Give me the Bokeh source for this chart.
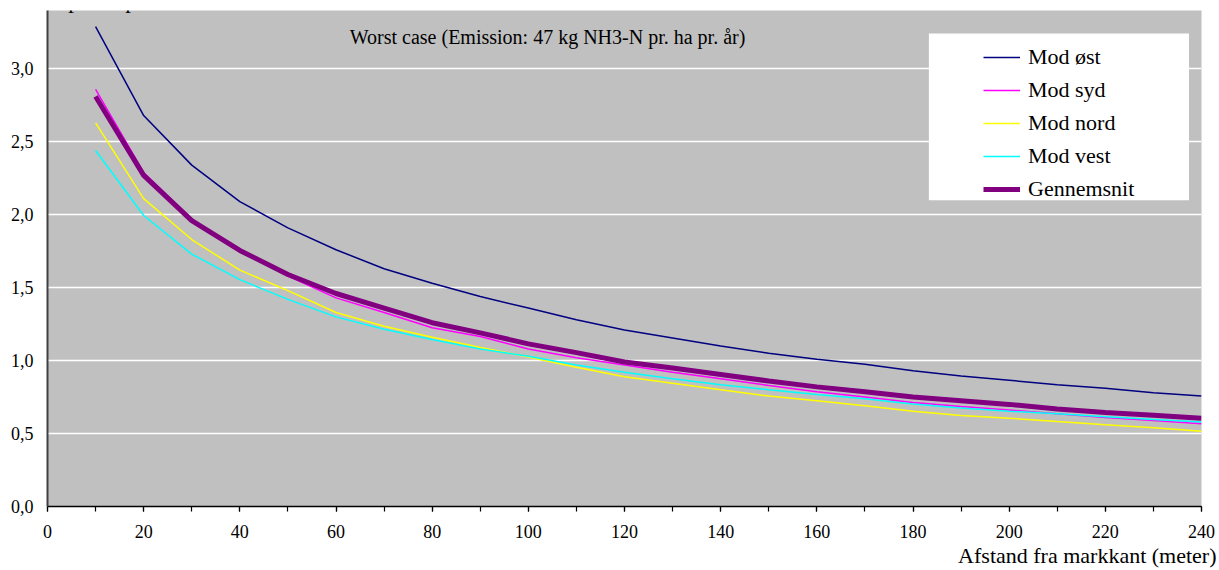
from bokeh.plotting import figure
from bokeh.models import (Range1d, SingleIntervalTicker, CustomJSTickFormatter, Label,
                          Legend, LegendItem, BoxAnnotation, Title)
from bokeh.embed import file_html
from bokeh.resources import INLINE

# ---- data ----
distance = [10, 20, 30, 40, 50, 60, 70, 80, 90, 100, 110, 120,
            130, 140, 150, 160, 170, 180, 190, 200, 210, 220, 230, 240]
mod_oest = [3.29, 2.68, 2.34, 2.09, 1.91, 1.76, 1.63, 1.53, 1.44, 1.36, 1.28, 1.21,
            1.155, 1.10, 1.05, 1.01, 0.975, 0.93, 0.895, 0.865, 0.835, 0.81, 0.78, 0.757]
mod_syd = [2.86, 2.29, 1.97, 1.75, 1.58, 1.43, 1.33, 1.225, 1.165, 1.08, 1.02, 0.97,
           0.92, 0.875, 0.83, 0.787, 0.75, 0.713, 0.685, 0.662, 0.635, 0.61, 0.59, 0.567]
mod_nord = [2.63, 2.11, 1.83, 1.62, 1.48, 1.33, 1.235, 1.16, 1.09, 1.025, 0.955, 0.89,
            0.845, 0.80, 0.757, 0.725, 0.69, 0.653, 0.623, 0.605, 0.582, 0.56, 0.54, 0.516]
mod_vest = [2.44, 1.995, 1.73, 1.555, 1.42, 1.30, 1.215, 1.145, 1.08, 1.03, 0.97, 0.92,
            0.875, 0.835, 0.80, 0.767, 0.738, 0.703, 0.676, 0.653, 0.635, 0.616, 0.597, 0.58]
gennemsnit = [2.81, 2.27, 1.96, 1.755, 1.59, 1.46, 1.36, 1.26, 1.19, 1.115, 1.055, 0.99,
              0.95, 0.905, 0.86, 0.82, 0.787, 0.75, 0.725, 0.70, 0.668, 0.645, 0.625, 0.605]

series_names = ["Mod øst", "Mod syd", "Mod nord", "Mod vest", "Gennemsnit"]
series_values = [mod_oest, mod_syd, mod_nord, mod_vest, gennemsnit]
series_colors = ["#000080", "#FF00FF", "#FFFF00", "#00FFFF", "#800080"]
series_widths = [1.5, 1.5, 1.5, 1.5, 5]

title_text = "Worst case (Emission: 47 kg NH3-N pr. ha pr. år)"
unit_text = "kg N pr. ha pr. år"
xlabel_text = "Afstand fra markkant (meter)"

FONT = "Liberation Serif"

p = figure(width=1219, height=570, output_backend="svg", toolbar_location=None,
           x_range=Range1d(0, 240), y_range=Range1d(0, 3.4),
           min_border_left=47, min_border_right=18, min_border_top=10, min_border_bottom=64)

p.background_fill_color = "#C0C0C0"
p.border_fill_color = "white"
p.outline_line_color = None

p.xgrid.visible = False
p.ygrid.grid_line_color = "white"
p.ygrid.grid_line_width = 1.5
p.ygrid.ticker = SingleIntervalTicker(interval=0.5)

# x axis
xa = p.xaxis[0]
xa.ticker = SingleIntervalTicker(interval=20, num_minor_ticks=2)
xa.axis_line_color = "black"
xa.axis_line_width = 1.5
xa.major_tick_in = 0
xa.major_tick_out = 5
xa.minor_tick_in = 0
xa.minor_tick_out = 5
xa.major_tick_line_color = "black"
xa.minor_tick_line_color = "black"
xa.major_tick_line_width = 1.2
xa.minor_tick_line_width = 1.2
xa.major_label_text_font = FONT
xa.major_label_text_font_size = "18px"
xa.major_label_text_color = "black"
xa.major_label_standoff = 13

# x axis caption, right-aligned below the axis
p.add_layout(Title(text=xlabel_text, align="right", offset=-15, standoff=0,
                   text_font=FONT, text_font_size="22px", text_font_style="normal",
                   text_color="black"), "below")

# y axis
ya = p.yaxis[0]
ya.ticker = SingleIntervalTicker(interval=0.5)
ya.formatter = CustomJSTickFormatter(code="return tick.toFixed(1).replace('.', ',');")
ya.axis_line_color = "#404040"
ya.axis_line_width = 2
ya.major_tick_in = 0
ya.major_tick_out = 0
ya.minor_tick_in = 0
ya.minor_tick_out = 0
ya.major_label_text_font = FONT
ya.major_label_text_font_size = "18px"
ya.major_label_text_color = "black"
ya.major_label_standoff = 14

renderers = []
for name, vals, col, lw in zip(series_names, series_values, series_colors, series_widths):
    r = p.line(distance, vals, line_color=col, line_width=lw)
    renderers.append((name, r))

# legend background box
p.add_layout(BoxAnnotation(left=183.3, right=237.4, top=3.242, bottom=2.099,
                           fill_color="white", fill_alpha=1.0, line_color=None))

legend = Legend(items=[LegendItem(label=n, renderers=[r]) for n, r in renderers],
                location=(936, 303), orientation="vertical",
                background_fill_alpha=0, border_line_color=None,
                padding=5, spacing=5, margin=0,
                glyph_width=37, glyph_height=28, label_height=28, label_standoff=8,
                label_text_font=FONT, label_text_font_size="22px", label_text_color="black")
p.add_layout(legend)

p.add_layout(Label(x=104, y=3.217, text=title_text, text_align="center",
                   text_baseline="middle", text_font=FONT, text_font_size="20px",
                   text_color="black"))
p.add_layout(Label(x=-6.3, y=3.47, text=unit_text, text_align="left",
                   text_baseline="alphabetic", text_font=FONT, text_font_size="23px",
                   text_color="black"))

open("out.html", "w").write(file_html(p, INLINE))
